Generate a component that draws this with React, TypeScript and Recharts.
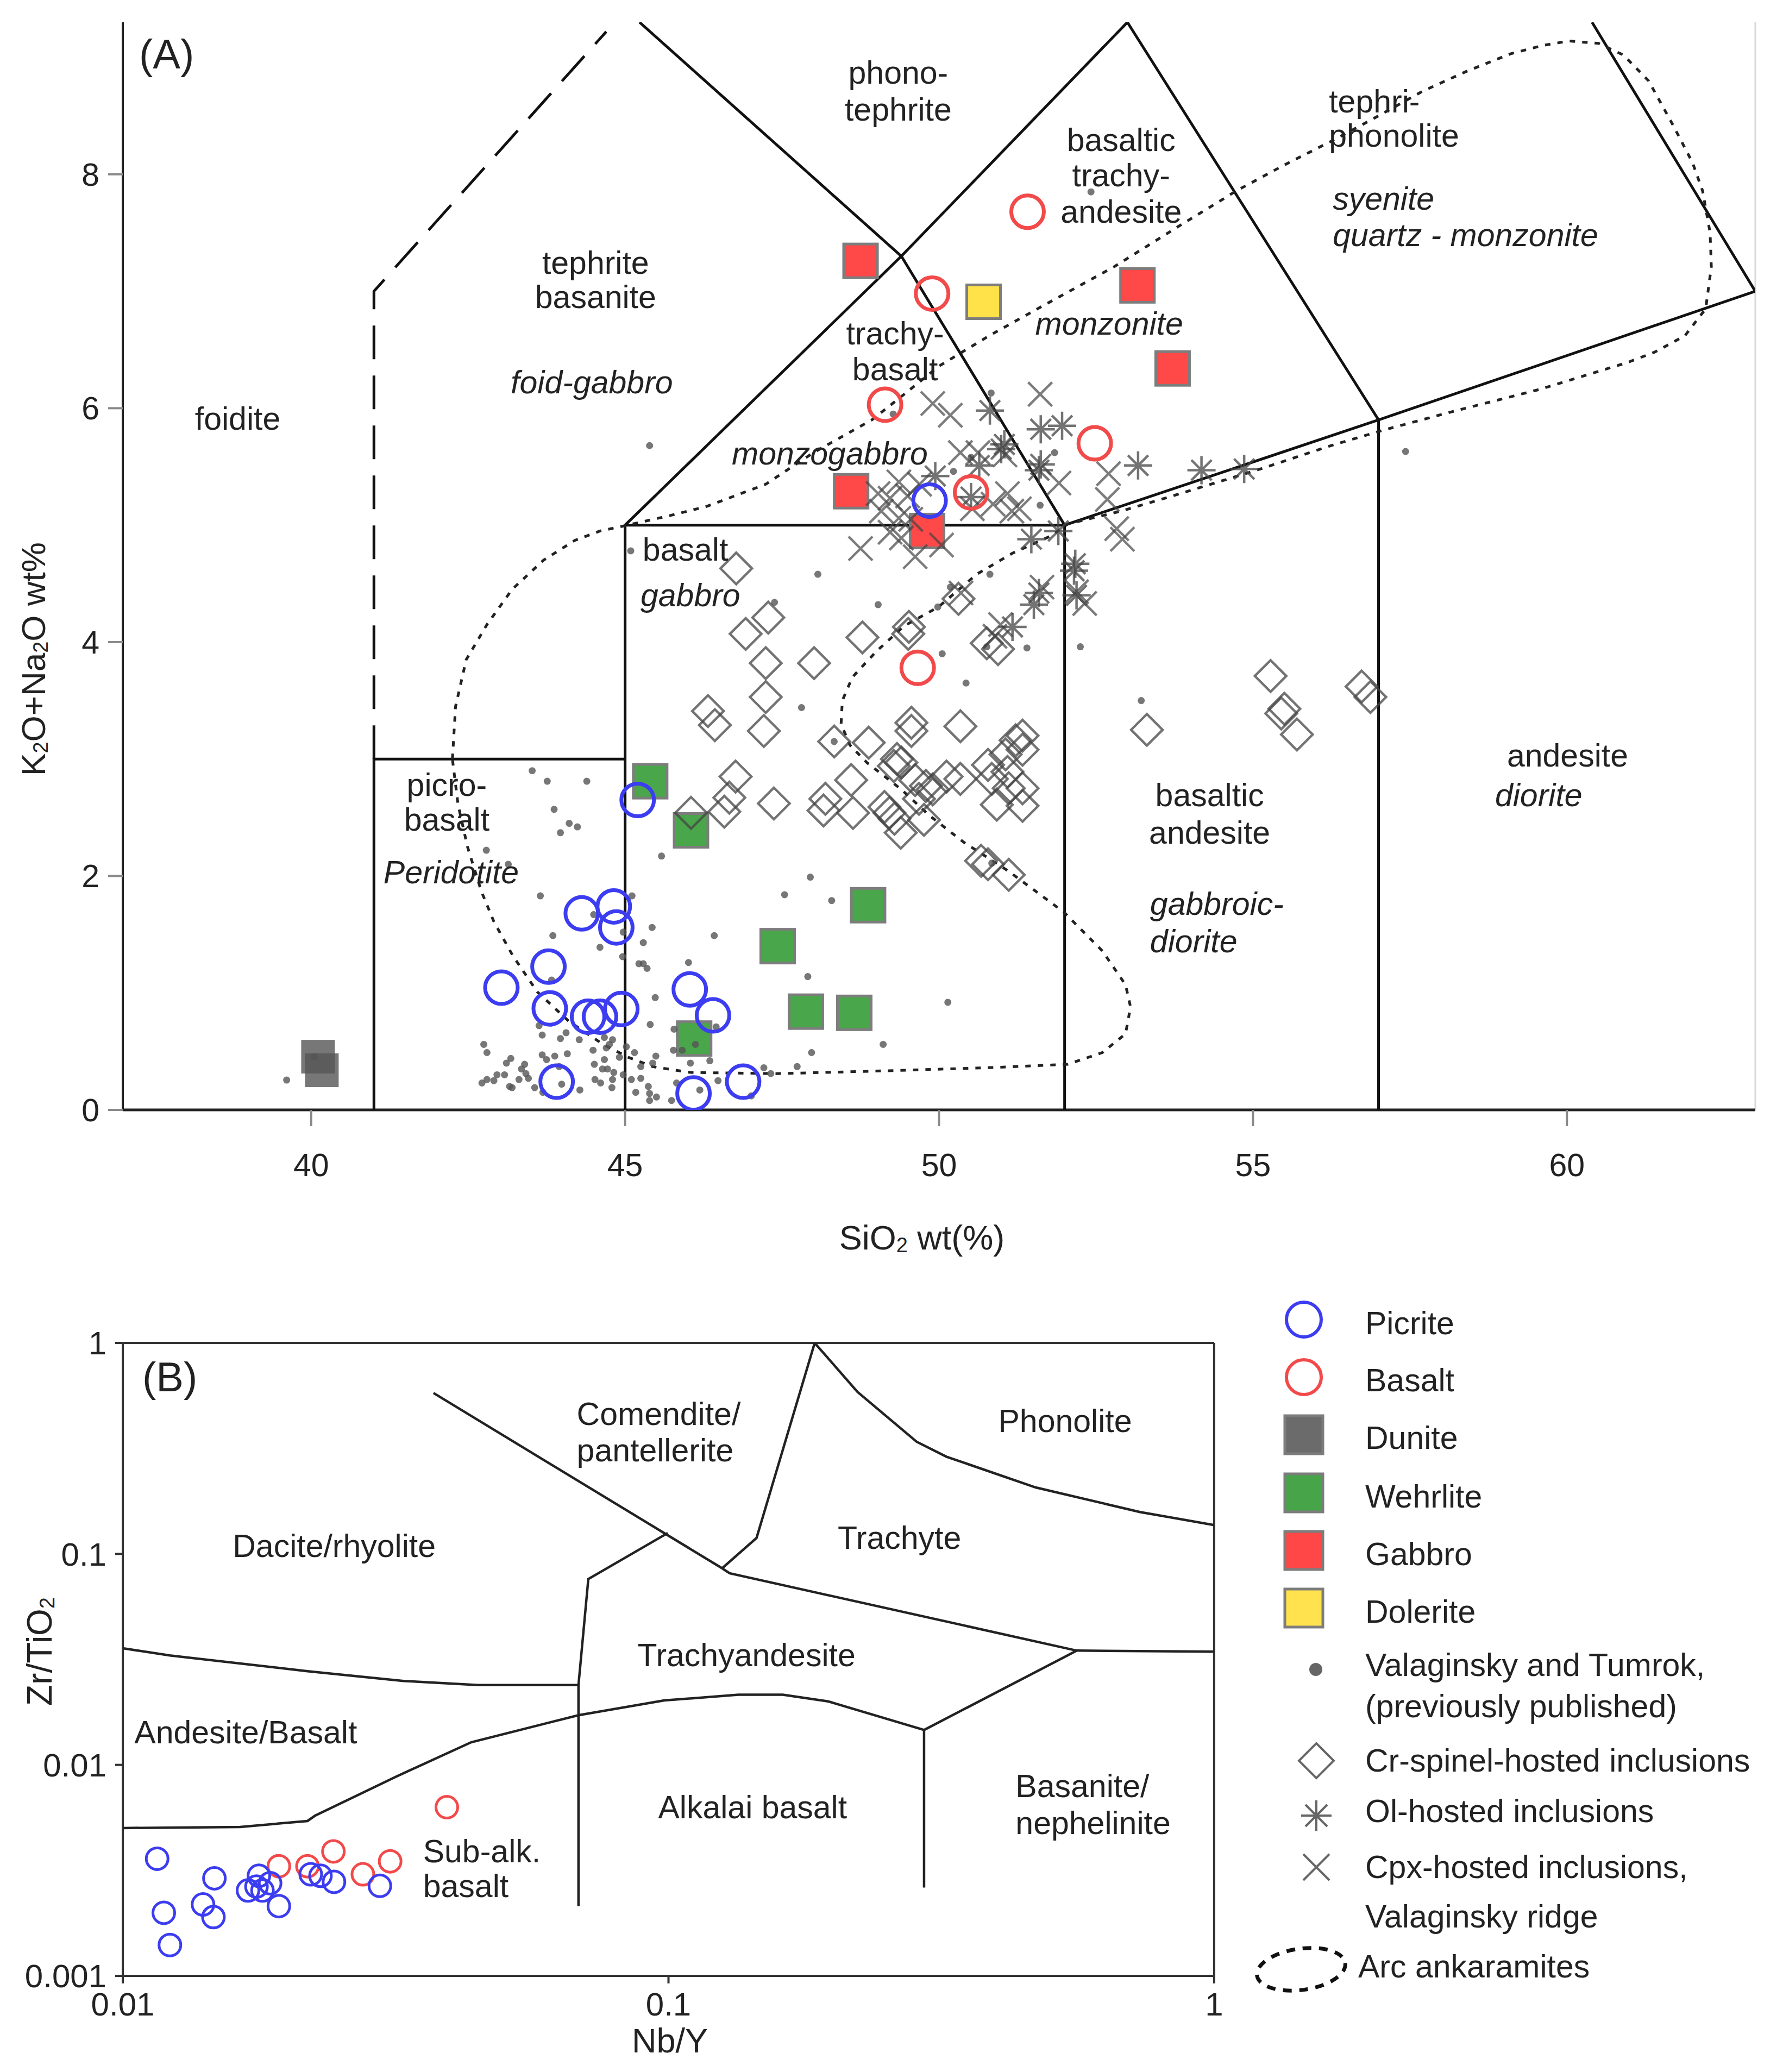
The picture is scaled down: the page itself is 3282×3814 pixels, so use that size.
import React from 'react';
import { ScatterChart, Scatter, XAxis, YAxis, ReferenceLine } from 'recharts';

const FONT = '"Liberation Sans", Arial, Helvetica, sans-serif';
const INK = '#222';

type Pt = [number, number];
type Lbl = [number, number, string];

// ---------- panel A: TAS ----------
const silicaTicks = [40, 45, 50, 55, 60];
const alkaliTicks = [0, 2, 4, 6, 8];

const tasBoundaries: Pt[][] = [
  [[41, 0], [41, 3], [45, 3]],
  [[45, 0], [45, 5], [52, 5], [52, 0]],
  [[57, 0], [57, 5.9]],
  [[45, 5], [49.4, 7.3], [53, 9.3]],
  [[45.23, 9.3], [49.4, 7.3], [52, 5], [57, 5.9], [63, 7]],
  [[53, 9.3], [57, 5.9]],
  [[60.4, 9.3], [63, 7]],
];
const tasFoiditeLine: Pt[] = [[41, 3], [41, 7], [44.7, 9.22]];

const arcAnkaramites: Pt[] = [
  [42.25, 3.0], [42.3, 3.45], [42.47, 3.85], [42.8, 4.15], [43.2, 4.45], [43.7, 4.7], [44.2, 4.87],
  [44.6, 4.95], [45.04, 5.0], [45.7, 5.08], [46.3, 5.16], [47.24, 5.35], [48.0, 5.62], [48.93, 5.9],
  [49.4, 6.1], [50.0, 6.36], [50.8, 6.62], [51.67, 6.88], [52.79, 7.21], [53.8, 7.55], [54.74, 7.86],
  [55.5, 8.08], [56.31, 8.3], [57.0, 8.5], [57.7, 8.71], [58.4, 8.88], [59.1, 9.03], [59.6, 9.1],
  [60.03, 9.14], [60.5, 9.12], [60.9, 9.02], [61.3, 8.8], [61.7, 8.41], [62.0, 8.1], [62.16, 7.86],
  [62.28, 7.5], [62.3, 7.21], [62.21, 6.85], [61.88, 6.62], [61.4, 6.48], [60.96, 6.39], [59.56, 6.16],
  [58.17, 5.97], [57.06, 5.81], [56.24, 5.68], [55.06, 5.47], [53.72, 5.25], [52.9, 5.12], [52.05, 5.01],
  [51.79, 4.91], [51.17, 4.76], [50.6, 4.58], [49.99, 4.3], [49.45, 4.14], [49.0, 3.92], [48.62, 3.7],
  [48.46, 3.5], [48.44, 3.3], [48.58, 3.12], [48.85, 2.97], [49.4, 2.74], [49.84, 2.52], [50.39, 2.29],
  [51.11, 2.04], [51.99, 1.69], [52.6, 1.36], [52.97, 1.07], [53.05, 0.88], [52.97, 0.65], [52.6, 0.49],
  [52.05, 0.39], [50.75, 0.36], [48.89, 0.33], [47.43, 0.31], [46.04, 0.32], [45.44, 0.37], [45.05, 0.45],
  [44.65, 0.56], [44.1, 0.76], [43.6, 1.01], [43.21, 1.32], [42.91, 1.61], [42.71, 1.87], [42.49, 2.25],
  [42.34, 2.61], [42.25, 3.0],
];

const picriteA: Pt[] = [
  [45.2, 2.65], [44.31, 1.68], [44.82, 1.74], [44.86, 1.56], [43.78, 1.225], [43.03, 1.045], [43.8, 0.868],
  [44.41, 0.797], [44.6, 0.797], [44.94, 0.863], [46.03, 1.03], [46.4, 0.808], [43.91, 0.241], [46.09, 0.141],
  [46.88, 0.241], [49.85, 5.21],
];
const basaltA: Pt[] = [[51.41, 7.68], [49.89, 6.98], [49.14, 6.03], [52.48, 5.7], [50.51, 5.28], [49.66, 3.78]];
const dunite: Pt[] = [[40.11, 0.455], [40.17, 0.339]];
const wehrlite: Pt[] = [[45.4, 2.81], [46.05, 2.39], [48.87, 1.75], [47.43, 1.4], [47.88, 0.84], [48.65, 0.83], [46.1, 0.61]];
const gabbro: Pt[] = [[48.75, 7.26], [53.16, 7.05], [53.72, 6.34], [48.6, 5.29], [49.81, 4.95]];
const dolerite: Pt[] = [[50.71, 6.91]];

const previousData: Pt[] = [
  [43.52, 2.9], [43.76, 2.81], [44.39, 2.81], [43.87, 2.57], [44.11, 2.45], [44.24, 2.42], [43.97, 2.37],
  [42.79, 2.22], [43.14, 2.1], [45.58, 2.17], [43.65, 1.83], [45.11, 1.83], [44.5, 1.67], [45.43, 1.56],
  [43.85, 1.49], [45.29, 1.43], [44.97, 1.52], [44.6, 1.39], [44.96, 1.31], [45.22, 1.25], [45.29, 1.25],
  [45.35, 1.21], [46.01, 1.26], [46.42, 1.49], [47.54, 1.84], [47.95, 1.99], [48.29, 1.79], [47.91, 1.14],
  [43.83, 1.11], [45.48, 0.96], [43.63, 0.72], [43.68, 0.64], [43.97, 0.61], [44.06, 0.66], [44.27, 0.6],
  [44.67, 0.62], [44.8, 0.6], [44.75, 0.56], [45.4, 0.73], [45.78, 0.69], [45.77, 0.51], [45.91, 0.51],
  [45.49, 0.46], [45.15, 0.49], [45.02, 0.54], [44.7, 0.53], [44.49, 0.51], [44.08, 0.48], [43.88, 0.46],
  [43.68, 0.47], [43.75, 0.43], [43.18, 0.44], [43.11, 0.4], [42.75, 0.56], [42.8, 0.49], [43.4, 0.39],
  [43.35, 0.35], [43.42, 0.31], [43.31, 0.26], [43.16, 0.2], [42.96, 0.3], [43.08, 0.3], [42.91, 0.25],
  [42.8, 0.26], [42.72, 0.23], [43.2, 0.19], [43.46, 0.27], [43.56, 0.19], [43.69, 0.15], [43.99, 0.22],
  [44.28, 0.17], [44.52, 0.26], [44.61, 0.23], [44.8, 0.26], [44.82, 0.32], [44.79, 0.19], [44.97, 0.3],
  [45.1, 0.26], [45.25, 0.27], [45.37, 0.2], [45.39, 0.14], [45.39, 0.08], [45.5, 0.11], [45.74, 0.08],
  [45.82, 0.23], [45.17, 0.15], [44.64, 0.35], [44.72, 0.35], [44.51, 0.39], [44.67, 0.43], [44.91, 0.45],
  [45.25, 0.37], [45.44, 0.4], [46.04, 0.4], [46.35, 0.42], [46.48, 0.25], [47.21, 0.36], [47.74, 0.37],
  [47.97, 0.49], [49.11, 0.56], [46.12, 0.56], [46.45, 0.71], [46.19, 0.17], [47.32, 0.31], [47.01, 0.12],
  [43.95, 0.37], [39.61, 0.255], [40.05, 0.455], [45.39, 5.68], [45.09, 4.78], [48.07, 4.58], [49.03, 4.32],
  [47.38, 4.34], [47.81, 3.44], [48.33, 3.15], [49.27, 5.95], [50.83, 6.13], [51.84, 5.62], [50.23, 5.46],
  [51.61, 5.17], [50.81, 4.58], [50.18, 4.47], [49.98, 4.3], [50.05, 3.9], [50.43, 3.65], [51.4, 3.95],
  [50.76, 3.96], [52.25, 3.96], [53.22, 3.5], [50.84, 2.11], [50.14, 0.92], [57.43, 5.63], [52.42, 7.85],
  [50.51, 5.58],
];

const crSpinel: Pt[] = [
  [46.77, 4.63], [47.28, 4.21], [46.92, 4.07], [47.24, 3.82], [48.01, 3.82], [48.78, 4.04], [49.52, 4.13],
  [49.51, 4.07], [50.31, 4.37], [50.76, 3.99], [50.94, 3.94], [47.24, 3.53], [46.32, 3.41], [46.43, 3.29],
  [47.21, 3.24], [46.76, 2.85], [46.66, 2.67], [46.58, 2.55], [46.05, 2.54], [47.37, 2.62], [48.33, 3.15],
  [48.88, 3.14], [49.56, 3.31], [49.56, 3.24], [50.34, 3.28], [49.33, 3.0], [49.4, 2.97], [49.28, 2.94],
  [48.6, 2.82], [49.62, 2.82], [49.79, 2.77], [49.9, 2.74], [50.12, 2.85], [50.34, 2.83], [50.78, 2.95],
  [50.84, 2.83], [51.22, 3.16], [51.33, 3.2], [51.33, 3.08], [51.06, 3.04], [51.09, 2.89], [51.11, 2.75],
  [51.33, 2.75], [51.33, 2.6], [50.92, 2.61], [48.19, 2.66], [48.16, 2.56], [48.63, 2.54], [49.13, 2.59],
  [49.21, 2.54], [49.29, 2.49], [49.39, 2.37], [49.76, 2.48], [49.68, 2.66], [50.67, 2.13], [50.78, 2.1],
  [51.11, 2.01], [53.31, 3.25], [55.28, 3.71], [55.5, 3.43], [55.45, 3.39], [55.7, 3.21], [56.73, 3.62],
  [56.87, 3.53],
];
const olHosted: Pt[] = [
  [50.81, 5.98], [51.62, 5.82], [51.96, 5.85], [50.99, 5.65], [51.04, 5.69], [50.64, 5.51], [49.94, 5.42],
  [50.51, 5.24], [51.62, 5.52], [51.59, 5.47], [53.17, 5.51], [54.18, 5.47], [54.86, 5.48], [51.47, 4.88],
  [51.9, 4.95], [52.17, 4.67], [52.15, 4.61], [51.59, 4.42], [51.51, 4.32], [52.19, 4.4], [51.17, 4.13],
];
const cpxHosted: Pt[] = [
  [51.61, 6.12], [49.9, 6.04], [50.18, 5.94], [50.34, 5.62], [50.62, 5.62], [51.05, 5.6], [51.91, 5.36],
  [51.09, 5.27], [50.86, 5.18], [50.53, 5.14], [51.16, 5.12], [51.28, 5.14], [49.36, 5.37], [49.69, 5.35],
  [49.03, 5.27], [49.22, 5.23], [49.5, 5.25], [49.08, 5.12], [49.36, 5.06], [49.22, 4.94], [49.4, 4.89],
  [48.75, 4.8], [49.62, 4.73], [50.04, 4.83], [52.7, 5.44], [52.68, 5.22], [52.83, 4.97], [52.92, 4.88],
  [52.32, 4.33], [51.64, 4.47], [50.98, 4.15], [50.35, 4.42], [50.89, 4.05], [52.19, 4.43], [49.55, 5.05],
];

const tasNames: Lbl[] = [
  [49.35, 8.87, 'phono-'], [49.35, 8.55, 'tephrite'],
  [52.9, 8.29, 'basaltic'], [52.9, 7.99, 'trachy-'], [52.9, 7.68, 'andesite'],
  [44.53, 7.24, 'tephrite'], [44.53, 6.95, 'basanite'],
  [49.3, 6.64, 'trachy-'], [49.3, 6.33, 'basalt'],
  [38.83, 5.91, 'foidite'], [45.96, 4.79, 'basalt'],
  [42.16, 2.78, 'picro-'], [42.16, 2.48, 'basalt'],
  [54.31, 2.69, 'basaltic'], [54.31, 2.37, 'andesite'],
  [60.01, 3.03, 'andesite'],
];
const tasNamesLeft: Lbl[] = [[56.21, 8.62, 'tephri-'], [56.21, 8.33, 'phonolite']];
const plutonicNames: Lbl[] = [
  [52.71, 6.72, 'monzonite'], [44.47, 6.22, 'foid-gabbro'], [48.26, 5.61, 'monzogabbro'],
  [46.04, 4.4, 'gabbro'], [42.23, 2.03, 'Peridotite'], [59.55, 2.69, 'diorite'],
];
const plutonicNamesLeft: Lbl[] = [
  [56.27, 7.79, 'syenite'], [56.27, 7.48, 'quartz - monzonite'],
  [53.36, 1.76, 'gabbroic-'], [53.36, 1.44, 'diorite'],
];
const panelA: Lbl[] = [[37.26, 9.03, '(A)']];

// ---------- panel B: Zr/TiO2 vs Nb/Y ----------
const nbyTicks = [0.01, 0.1, 1];
const zrTiTicks = [0.001, 0.01, 0.1, 1];

const wfBoundaries: Pt[][] = [
  [[0.01, 0.0357], [0.0122, 0.033], [0.0218, 0.0278], [0.0327, 0.025], [0.0448, 0.0239], [0.0684, 0.0239]],
  [[0.0684, 0.00214], [0.0684, 0.0239], [0.0713, 0.076], [0.0997, 0.1256]],
  [[0.0371, 0.579], [0.1254, 0.0855]],
  [[0.1254, 0.0855], [0.145, 0.119], [0.1853, 1]],
  [[0.1853, 1], [0.222, 0.586], [0.285, 0.34], [0.323, 0.289], [0.471, 0.2065], [0.731, 0.158], [1, 0.137]],
  [[0.1254, 0.0855], [0.1294, 0.081], [0.56, 0.0348], [1, 0.0344]],
  [[0.56, 0.0348], [0.294, 0.01464], [0.294, 0.00262]],
  [[0.01, 0.00502], [0.0164, 0.00508], [0.0218, 0.00542], [0.0225, 0.00574], [0.0317, 0.0088], [0.0435, 0.0128],
   [0.0684, 0.0172], [0.0982, 0.0202], [0.1343, 0.0215], [0.162, 0.0215], [0.196, 0.02], [0.294, 0.01464]],
];

const picriteB: Pt[] = [
  [0.01156, 0.00359], [0.01189, 0.00199], [0.0122, 0.0014], [0.01403, 0.00218], [0.01466, 0.0019],
  [0.01472, 0.0029], [0.01696, 0.00254], [0.01776, 0.00298], [0.01803, 0.00254], [0.01862, 0.00275],
  [0.01758, 0.00265], [0.01932, 0.00214], [0.0221, 0.00303], [0.02303, 0.00298], [0.02438, 0.00279],
  [0.02959, 0.00267],
];
const basaltB: Pt[] = [[0.01932, 0.00331], [0.0218, 0.00331], [0.02432, 0.00389], [0.02754, 0.00303], [0.0309, 0.00349], [0.03925, 0.0063]];

const wfNames: Lbl[] = [
  [0.533, 0.426, 'Phonolite'], [0.0244, 0.109, 'Dacite/rhyolite'], [0.265, 0.119, 'Trachyte'],
  [0.139, 0.033, 'Trachyandesite'], [0.0168, 0.01426, 'Andesite/Basalt'], [0.1426, 0.00628, 'Alkalai basalt'],
];
const wfNamesLeft: Lbl[] = [
  [0.0679, 0.46, 'Comendite/'], [0.0679, 0.309, 'pantellerite'],
  [0.4325, 0.00793, 'Basanite/'], [0.4325, 0.0053, 'nephelinite'],
  [0.0355, 0.00389, 'Sub-alk.'], [0.0355, 0.00266, 'basalt'],
];
const panelB: Lbl[] = [[0.01086, 0.689, '(B)']];

// ---------- helpers ----------
const xy = (pts: Pt[]) => pts.map(([x, y]) => ({ x, y }));
const lbl = (rows: Lbl[]) => rows.map(([x, y, t]) => ({ x, y, t }));

const Nothing = () => <g />;

const ring = (color: string, r: number, w: number) => (p: any) => (
  <circle cx={p.cx} cy={p.cy} r={r} fill="none" stroke={color} strokeWidth={w} />
);
const box = (fill: string, half: number, border = '#7d7d7d', opacity = 1) => (p: any) => (
  <rect x={p.cx - half} y={p.cy - half} width={half * 2} height={half * 2} fill={fill} fillOpacity={opacity}
    stroke={border} strokeWidth={5} />
);
const diamond = (h: number) => (p: any) => (
  <path d={`M${p.cx} ${p.cy - h}L${p.cx + h} ${p.cy}L${p.cx} ${p.cy + h}L${p.cx - h} ${p.cy}Z`}
    fill="none" stroke="#444" strokeOpacity={0.75} strokeWidth={4.5} />
);
const cross = (h: number) => (p: any) => (
  <path d={`M${p.cx - h} ${p.cy - h}L${p.cx + h} ${p.cy + h}M${p.cx - h} ${p.cy + h}L${p.cx + h} ${p.cy - h}`}
    stroke="#444" strokeOpacity={0.7} strokeWidth={4.5} />
);
const star = (h: number) => (p: any) => {
  const d = h * 0.72;
  return (
    <path d={`M${p.cx} ${p.cy - h}V${p.cy + h}M${p.cx - h} ${p.cy}H${p.cx + h}M${p.cx - d} ${p.cy - d}L${p.cx + d} ${p.cy + d}M${p.cx - d} ${p.cy + d}L${p.cx + d} ${p.cy - d}`}
      stroke="#444" strokeOpacity={0.75} strokeWidth={4.5} />
  );
};
const dot = (p: any) => <circle cx={p.cx} cy={p.cy} r={6.5} fill="#555" fillOpacity={0.8} />;

const words = (anchor: 'middle' | 'start', italic = false, size = 59) => (p: any) => (
  <text x={p.cx} y={p.cy} textAnchor={anchor} dominantBaseline="central" fontFamily={FONT} fontSize={size}
    fontStyle={italic ? 'italic' : 'normal'} fill={INK}>
    {p.payload?.t ?? p.t}
  </text>
);

const BLUE = '#3c3cf0';
const RED = '#f24a4a';
const GREY_BORDER = '#7d7d7d';

function TasChart() {
  return (
    <ScatterChart width={3282} height={2400} margin={{ top: 41, right: 51, left: 106, bottom: 237 }}>
      <XAxis type="number" dataKey="x" domain={[37, 63]} ticks={silicaTicks} allowDataOverflow height={120}
        axisLine={{ stroke: '#222', strokeWidth: 5 }} tickLine={{ stroke: '#8a8a8a', strokeWidth: 4 }}
        tickSize={30} tickMargin={50} tick={{ fill: INK, fontSize: 59, fontFamily: FONT }} />
      <YAxis type="number" dataKey="y" domain={[0, 9.3]} ticks={alkaliTicks} allowDataOverflow width={120}
        axisLine={{ stroke: '#222', strokeWidth: 4 }} tickLine={{ stroke: '#8a8a8a', strokeWidth: 4 }}
        tickSize={27} tickMargin={16} tick={{ fill: INK, fontSize: 59, fontFamily: FONT }} />
      <ReferenceLine x={63} stroke="#d8d8d8" strokeWidth={3} />
      {tasBoundaries.map((seg, i) => (
        <Scatter key={`b${i}`} data={xy(seg)} line={{ stroke: '#111', strokeWidth: 5 }} shape={Nothing}
          isAnimationActive={false} />
      ))}
      <Scatter data={xy(tasFoiditeLine)} line={{ stroke: '#111', strokeWidth: 5, strokeDasharray: '62 30' }}
        shape={Nothing} isAnimationActive={false} />
      <Scatter data={xy(arcAnkaramites)} line={{ stroke: '#222', strokeWidth: 5, strokeDasharray: '10 13' }}
        shape={Nothing} isAnimationActive={false} />
      <Scatter data={xy(dunite)} shape={box('#555', 31, 'none', 0.8)} isAnimationActive={false} />
      <Scatter data={xy(wehrlite)} shape={box('#4aa64a', 31, GREY_BORDER)} isAnimationActive={false} />
      <Scatter data={xy(gabbro)} shape={box('#ff4848', 31, GREY_BORDER)} isAnimationActive={false} />
      <Scatter data={xy(dolerite)} shape={box('#ffe14a', 31, GREY_BORDER)} isAnimationActive={false} />
      <Scatter data={xy(previousData)} shape={dot} isAnimationActive={false} />
      <Scatter data={xy(crSpinel)} shape={diamond(29)} isAnimationActive={false} />
      <Scatter data={xy(cpxHosted)} shape={cross(22)} isAnimationActive={false} />
      <Scatter data={xy(olHosted)} shape={star(26)} isAnimationActive={false} />
      <Scatter data={xy(basaltA)} shape={ring(RED, 30, 7)} isAnimationActive={false} />
      <Scatter data={xy(picriteA)} shape={ring(BLUE, 30, 7)} isAnimationActive={false} />
      <Scatter data={lbl(tasNames)} shape={words('middle')} isAnimationActive={false} />
      <Scatter data={lbl(tasNamesLeft)} shape={words('start')} isAnimationActive={false} />
      <Scatter data={lbl(plutonicNames)} shape={words('middle', true)} isAnimationActive={false} />
      <Scatter data={lbl(plutonicNamesLeft)} shape={words('start', true)} isAnimationActive={false} />
      <Scatter data={lbl(panelA)} shape={words('start', false, 76)} isAnimationActive={false} />
    </ScatterChart>
  );
}

function WinchesterChart() {
  return (
    <ScatterChart width={2300} height={1414} margin={{ top: 72, right: 65, left: 76, bottom: 77 }}>
      <XAxis type="number" dataKey="x" scale="log" domain={[0.01, 1]} ticks={nbyTicks} allowDataOverflow height={100}
        axisLine={{ stroke: '#333', strokeWidth: 4 }} tickLine={{ stroke: '#333', strokeWidth: 4 }}
        tickSize={14} tickMargin={16} tick={{ fill: INK, fontSize: 60, fontFamily: FONT }} />
      <YAxis type="number" dataKey="y" scale="log" domain={[0.001, 1]} ticks={zrTiTicks} allowDataOverflow width={150}
        axisLine={{ stroke: '#333', strokeWidth: 4 }} tickLine={{ stroke: '#333', strokeWidth: 4 }}
        tickSize={14} tickMargin={16} tick={{ fill: INK, fontSize: 60, fontFamily: FONT }} />
      <ReferenceLine y={1} stroke="#333" strokeWidth={4} />
      <ReferenceLine x={1} stroke="#333" strokeWidth={4} />
      {wfBoundaries.map((seg, i) => (
        <Scatter key={`w${i}`} data={xy(seg)} line={{ stroke: '#222', strokeWidth: 4.5 }} shape={Nothing}
          isAnimationActive={false} />
      ))}
      <Scatter data={xy(basaltB)} shape={ring(RED, 20, 5)} isAnimationActive={false} />
      <Scatter data={xy(picriteB)} shape={ring(BLUE, 20, 5)} isAnimationActive={false} />
      <Scatter data={lbl(wfNames)} shape={words('middle')} isAnimationActive={false} />
      <Scatter data={lbl(wfNamesLeft)} shape={words('start')} isAnimationActive={false} />
      <Scatter data={lbl(panelB)} shape={words('start', false, 76)} isAnimationActive={false} />
    </ScatterChart>
  );
}

const legendRows = ['Picrite', 'Basalt', 'Dunite', 'Wehrlite', 'Gabbro', 'Dolerite'];
const legendFills = ['none', 'none', '#6b6b6b', '#48a448', '#ff4747', '#ffe24d'];

function LegendBox() {
  const rowY = [79, 185, 291, 398, 504, 610];
  const textY = [86, 191, 297, 405, 511, 617];
  const t = (y: number, s: string, x = 233) => (
    <text key={s} x={x} y={y} fontSize={59} fontFamily={FONT} fill={INK} dominantBaseline="central">{s}</text>
  );
  return (
    <svg width={1002} height={1400}>
      {legendRows.map((name, i) =>
        i < 2 ? (
          <circle key={name} cx={120} cy={rowY[i]} r={32} fill="none" stroke={i === 0 ? BLUE : RED} strokeWidth={6} />
        ) : (
          <rect key={name} x={85} y={rowY[i] - 35} width={70} height={70} fill={legendFills[i]} stroke={GREY_BORDER} strokeWidth={5} />
        ),
      )}
      {legendRows.map((name, i) => t(textY[i], name))}
      <circle cx={142} cy={723} r={12} fill="#666" />
      {t(715, 'Valaginsky and Tumrok,')}
      {t(791, '(previously published)')}
      <path d="M143 859L175 891L143 923L111 891Z" fill="none" stroke="#666" strokeWidth={4} />
      {t(891, 'Cr-spinel-hosted inclusions')}
      <path d="M143 964V1020M115 992H171M123 972L163 1012M123 1012L163 972" stroke="#666" strokeWidth={4} />
      {t(984, 'Ol-hosted inclusions')}
      <path d="M119 1063L167 1111M119 1111L167 1063" stroke="#666" strokeWidth={4} />
      {t(1087, 'Cpx-hosted inclusions,')}
      {t(1178, 'Valaginsky ridge')}
      <ellipse cx={115} cy={1275} rx={82} ry={38} transform="rotate(-8 115 1275)" fill="none" stroke="#111"
        strokeWidth={7} strokeDasharray="16 14" />
      {t(1270, 'Arc ankaramites', 220)}
    </svg>
  );
}

function AxisTitles() {
  const base = { fontFamily: FONT, fill: INK, textAnchor: 'middle' as const, dominantBaseline: 'central' as const };
  return (
    <svg width={3282} height={3814} style={{ position: 'absolute', left: 0, top: 0, pointerEvents: 'none' }}>
      <text {...base} fontSize={62} transform="translate(61,1213) rotate(-90)">
        K<tspan fontSize={38} dy={14}>2</tspan><tspan dy={-14}>O+Na</tspan><tspan fontSize={38} dy={14}>2</tspan>
        <tspan dy={-14}>O wt%</tspan>
      </text>
      <text {...base} fontSize={63} x={1697} y={2278}>
        SiO<tspan fontSize={38} dy={14}>2</tspan><tspan dy={-14}> wt(%)</tspan>
      </text>
      <text {...base} fontSize={64} transform="translate(73,3040) rotate(-90)">
        Zr/TiO<tspan fontSize={38} dy={14}>2</tspan>
      </text>
      <text {...base} fontSize={63} x={1233} y={3756}>Nb/Y</text>
    </svg>
  );
}

export default function App() {
  return (
    <div style={{ position: 'relative', width: 3282, height: 3814, background: '#fff', overflow: 'hidden' }}>
      <style>{'body{margin:0}'}</style>
      <div style={{ position: 'absolute', left: 0, top: 0 }}>
        <TasChart />
      </div>
      <div style={{ position: 'absolute', left: 0, top: 2400 }}>
        <WinchesterChart />
      </div>
      <div style={{ position: 'absolute', left: 2280, top: 2350 }}>
        <LegendBox />
      </div>
      <AxisTitles />
    </div>
  );
}
